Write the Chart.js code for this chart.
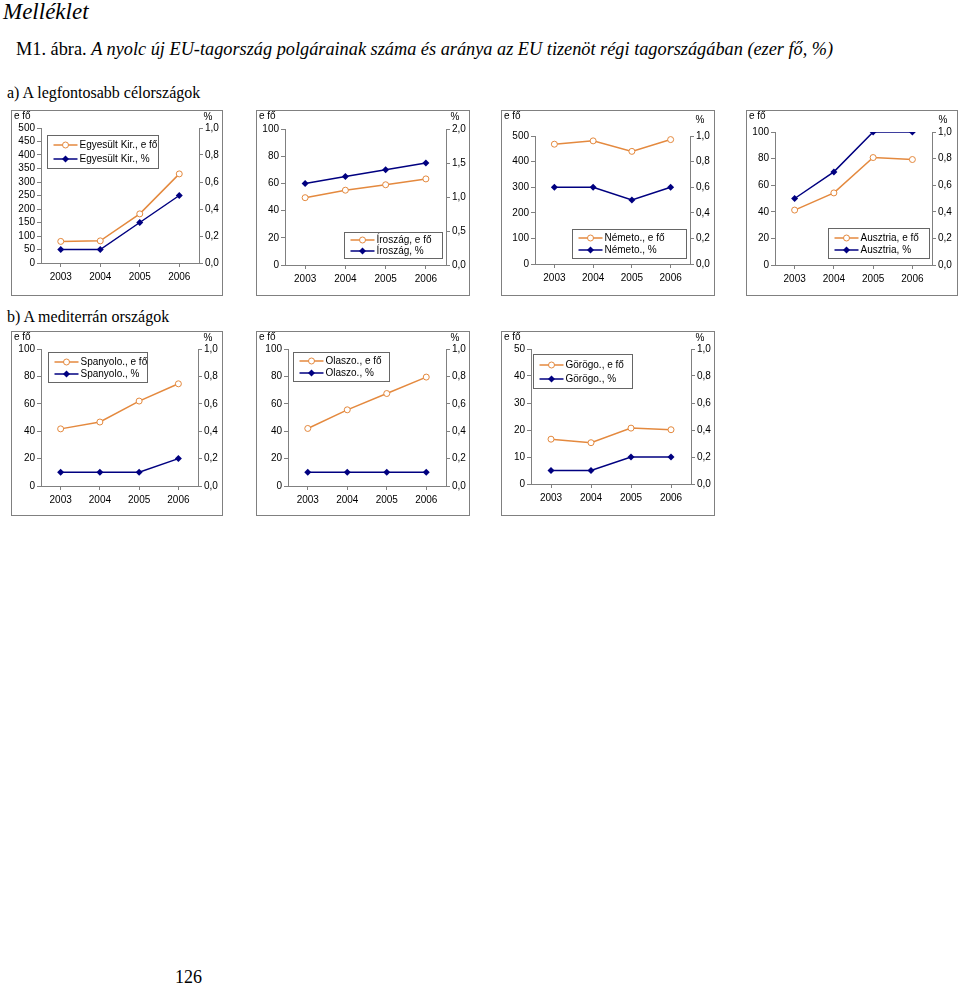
<!DOCTYPE html>
<html lang="hu">
<head>
<meta charset="utf-8">
<title>M1. ábra</title>
<script src="https://cdn.jsdelivr.net/npm/chart.js@4.4.1/dist/chart.umd.min.js"></script>
<style>
  body { margin: 0; width: 960px; height: 987px; position: relative; background: #fff; font-family: "Liberation Serif", "Times New Roman", serif; color: #000; }
  .txt { position: absolute; white-space: nowrap; }
  canvas { position: absolute; }
</style>
</head>
<body>
<div class="txt" style="left:3px;top:-1px;font-size:23px;font-style:italic">Melléklet</div>
<div class="txt" style="left:16px;top:39px;font-size:18.3px">M1. ábra. <i>A nyolc új EU-tagország polgárainak száma és aránya az EU tizenöt régi tagországában (ezer fő, %)</i></div>
<div class="txt" style="left:7px;top:84px;font-size:16px">a) A legfontosabb célországok</div>
<div class="txt" style="left:7px;top:308px;font-size:16px">b) A mediterrán országok</div>
<div class="txt" style="left:175px;top:967px;font-size:18px">126</div>

<canvas id="c-uk"></canvas>
<canvas id="c-ir"></canvas>
<canvas id="c-de"></canvas>
<canvas id="c-at"></canvas>
<canvas id="c-es"></canvas>
<canvas id="c-it"></canvas>
<canvas id="c-gr"></canvas>

<script>
// évek (x tengely)
const years = ["2003", "2004", "2005", "2006"];

// ezer fő (bal tengely) és % (jobb tengely), országonként
const ukFo = [80, 82, 182, 330];
const ukPct = [0.1, 0.1, 0.3, 0.5];
const irFo = [49.5, 55, 59, 63.3];
const irPct = [1.2, 1.3, 1.4, 1.5];
const deFo = [468, 481, 440, 486];
const dePct = [0.6, 0.6, 0.5, 0.6];
const atFo = [41.3, 54.2, 80.8, 79.3];
const atPct = [0.5, 0.7, 1.0, 1.0];
const esFo = [41.7, 46.7, 62, 74.6];
const esPct = [0.1, 0.1, 0.1, 0.2];
const itFo = [42, 55.6, 67.5, 79.5];
const itPct = [0.1, 0.1, 0.1, 0.1];
const grFo = [16.6, 15.3, 20.7, 20.1];
const grPct = [0.1, 0.1, 0.2, 0.2];

const ORANGE = "#E4893E";
const NAVY = "#000080";
const AXIS = "#808080";
const SANS = "'Liberation Sans', Arial, sans-serif";

// ============================================================
// Diagramok leírása: keret, rajzterület, jelmagyarázat (oldal-koordináták)
// ============================================================
const charts = [
  { id: "c-uk", name: "Egyesült Kir.", fo: ukFo, pct: ukPct, maxL: 500, stepL: 50, maxR: 1, stepR: 0.2,
    box: { x: 11, y: 110, w: 212, h: 186 }, plot: { l: 41, r: 199, t: 128, b: 263 },
    legend: { x: 47, y: 135, w: 111, h: 33 }, pctY: 7 },
  { id: "c-ir", name: "Íroszág", fo: irFo, pct: irPct, maxL: 100, stepL: 20, maxR: 2, stepR: 0.5,
    box: { x: 256, y: 110, w: 214, h: 186 }, plot: { l: 285, r: 446, t: 129, b: 265 },
    legend: { x: 344, y: 232, w: 98, h: 26 }, pctY: 7 },
  { id: "c-de", name: "Németo.", fo: deFo, pct: dePct, maxL: 500, stepL: 100, maxR: 1, stepR: 0.2,
    box: { x: 501, y: 110, w: 214, h: 186 }, plot: { l: 535, r: 690, t: 136, b: 264 },
    legend: { x: 572, y: 229, w: 114, h: 29 }, pctY: 10 },
  { id: "c-at", name: "Ausztria", fo: atFo, pct: atPct, maxL: 100, stepL: 20, maxR: 1, stepR: 0.2,
    box: { x: 746, y: 110, w: 212, h: 186 }, plot: { l: 775, r: 932, t: 132, b: 265 },
    legend: { x: 828, y: 228, w: 101, h: 30 }, pctY: 10 },
  { id: "c-es", name: "Spanyolo.", fo: esFo, pct: esPct, maxL: 100, stepL: 20, maxR: 1, stepR: 0.2,
    box: { x: 11, y: 331, w: 212, h: 185 }, plot: { l: 41, r: 198, t: 349, b: 486 },
    legend: { x: 48, y: 352, w: 99, h: 30 }, pctY: 7 },
  { id: "c-it", name: "Olaszo.", fo: itFo, pct: itPct, maxL: 100, stepL: 20, maxR: 1, stepR: 0.2,
    box: { x: 256, y: 331, w: 214, h: 185 }, plot: { l: 288, r: 446, t: 349, b: 486 },
    legend: { x: 293, y: 352, w: 96, h: 29 }, pctY: 7 },
  { id: "c-gr", name: "Görögo.", fo: grFo, pct: grPct, maxL: 50, stepL: 10, maxR: 1, stepR: 0.2,
    box: { x: 501, y: 331, w: 214, h: 185 }, plot: { l: 531, r: 691, t: 349, b: 484 },
    legend: { x: 533, y: 354, w: 99, h: 34 }, pctY: 7 },
];

function vesszo(v) {
  return v.toFixed(1).replace(".", ",");
}

// keret + tengelyfeliratok + jelmagyarázat
function keretPlugin(spec) {
  return {
    id: "keret",
    beforeDraw(chart) {
      const ctx = chart.ctx;
      ctx.save();
      ctx.fillStyle = "#fff";
      ctx.fillRect(0, 0, chart.width, chart.height);
      ctx.strokeStyle = AXIS;
      ctx.lineWidth = 1;
      ctx.strokeRect(0.5, 0.5, chart.width - 1, chart.height - 1);
      ctx.restore();
    },
    afterDraw(chart) {
      const ctx = chart.ctx;
      const b = spec.box;
      ctx.save();
      ctx.font = "10px " + SANS;
      ctx.fillStyle = "#000";
      ctx.textBaseline = "middle";
      ctx.textAlign = "left";
      ctx.fillText("e fő", 3, 6);
      ctx.textAlign = "center";
      ctx.fillText("%", b.w - 15, spec.pctY);

      const lg = spec.legend;
      const lx = lg.x - b.x + 0.5;
      const ly = lg.y - b.y + 0.5;
      ctx.fillStyle = "#fff";
      ctx.fillRect(lx, ly, lg.w, lg.h);
      ctx.strokeStyle = "#666";
      ctx.strokeRect(lx, ly, lg.w, lg.h);

      const sorok = [
        { label: spec.name + ", e fő", color: ORANGE, style: "circle" },
        { label: spec.name + ", %", color: NAVY, style: "diamond" },
      ];
      sorok.forEach((s, i) => {
        const cy = Math.round(ly + lg.h * (i === 0 ? 0.3 : 0.72));
        const x0 = lx + 6;
        const x1 = x0 + 24;
        ctx.strokeStyle = s.color;
        ctx.lineWidth = 1.5;
        ctx.beginPath();
        ctx.moveTo(x0, cy);
        ctx.lineTo(x1, cy);
        ctx.stroke();
        const mx = (x0 + x1) / 2;
        if (s.style === "circle") {
          ctx.fillStyle = "#fff";
          ctx.lineWidth = 1;
          ctx.beginPath();
          ctx.arc(mx, cy, 3, 0, Math.PI * 2);
          ctx.fill();
          ctx.stroke();
        } else {
          ctx.fillStyle = NAVY;
          ctx.beginPath();
          ctx.moveTo(mx, cy - 3.5);
          ctx.lineTo(mx + 3.5, cy);
          ctx.lineTo(mx, cy + 3.5);
          ctx.lineTo(mx - 3.5, cy);
          ctx.closePath();
          ctx.fill();
        }
        ctx.fillStyle = "#000";
        ctx.textAlign = "left";
        ctx.fillText(s.label, x1 + 2, cy);
      });
      ctx.restore();
    },
  };
}

function tengely(extra) {
  return Object.assign({
    border: { color: AXIS, width: 1 },
    grid: { drawOnChartArea: false, drawTicks: true, tickLength: 4, color: AXIS },
  }, extra);
}

function rajzol(spec) {
  const canvas = document.getElementById(spec.id);
  const b = spec.box;
  const p = spec.plot;
  canvas.width = b.w;
  canvas.height = b.h;
  canvas.style.left = b.x + "px";
  canvas.style.top = b.y + "px";
  canvas.style.width = b.w + "px";
  canvas.style.height = b.h + "px";

  const tickFont = { family: SANS, size: 10 };

  new Chart(canvas, {
    type: "line",
    data: {
      labels: years,
      datasets: [
        {
          label: spec.name + ", e fő", data: spec.fo, yAxisID: "y",
          borderColor: ORANGE, backgroundColor: "#fff", borderWidth: 1.5,
          pointStyle: "circle", pointRadius: 3, pointBorderWidth: 1,
          pointBackgroundColor: "#fff", pointBorderColor: ORANGE,
        },
        {
          label: spec.name + ", %", data: spec.pct, yAxisID: "y1",
          borderColor: NAVY, backgroundColor: NAVY, borderWidth: 1.5,
          pointStyle: "rectRot", pointRadius: 3.5, pointBorderWidth: 0,
          pointBackgroundColor: NAVY, pointBorderColor: NAVY,
        },
      ],
    },
    options: {
      responsive: false,
      animation: false,
      devicePixelRatio: 1,
      events: [],
      layout: { padding: { top: p.t - b.y, left: 0, right: 0, bottom: 0 } },
      plugins: { legend: { display: false }, tooltip: { enabled: false } },
      scales: {
        x: tengely({
          offset: true,
          ticks: { font: tickFont, color: "#000", padding: 4, maxRotation: 0, autoSkip: false },
          afterFit: (s) => { s.height = b.y + b.h - p.b; },
        }),
        y: tengely({
          position: "left", min: 0, max: spec.maxL,
          ticks: { font: tickFont, color: "#000", padding: 2, stepSize: spec.stepL, autoSkip: false },
          afterFit: (s) => { s.width = p.l - b.x; },
        }),
        y1: tengely({
          position: "right", min: 0, max: spec.maxR,
          ticks: { font: tickFont, color: "#000", padding: 2, stepSize: spec.stepR, autoSkip: false, callback: (v) => vesszo(v) },
          afterFit: (s) => { s.width = b.x + b.w - p.r; },
        }),
      },
    },
    plugins: [keretPlugin(spec)],
  });
}

charts.forEach(rajzol);
</script>
</body>
</html>
